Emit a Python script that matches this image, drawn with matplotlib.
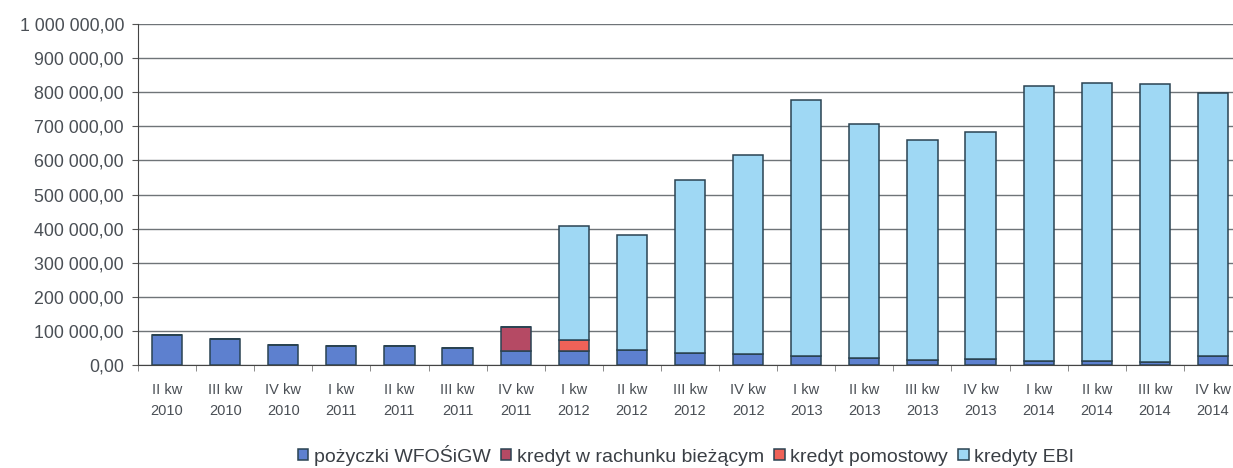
import matplotlib
matplotlib.use("Agg")
import matplotlib.pyplot as plt
import numpy as np
from matplotlib.ticker import FuncFormatter

plt.rcParams['font.family'] = ['Liberation Sans', 'DejaVu Sans']

quarters = ["II kw\n2010", "III kw\n2010", "IV kw\n2010",
            "I kw\n2011", "II kw\n2011", "III kw\n2011", "IV kw\n2011",
            "I kw\n2012", "II kw\n2012", "III kw\n2012", "IV kw\n2012",
            "I kw\n2013", "II kw\n2013", "III kw\n2013", "IV kw\n2013",
            "I kw\n2014", "II kw\n2014", "III kw\n2014", "IV kw\n2014"]

# values (PLN)
pozyczki = [89000, 76000, 59000, 55000, 55000, 50000, 42000,
            42000, 43000, 36000, 31000, 25000, 21000, 16000, 17000,
            13000, 13000, 10000, 25000]
rachunek = [0, 0, 0, 0, 0, 0, 69000,
            0, 0, 0, 0, 0, 0, 0, 0, 0, 0, 0, 0]
pomostowy = [0, 0, 0, 0, 0, 0, 0,
             31000, 0, 0, 0, 0, 0, 0, 0, 0, 0, 0, 0]
totals = [89000, 76000, 59000, 55000, 55000, 50000, 111000,
          408000, 380000, 542000, 616000, 777000, 708000, 660000, 682000,
          818000, 828000, 823000, 797000]
ebi = [t - a - b - c for t, a, b, c in zip(totals, pozyczki, rachunek, pomostowy)]

series = [("pożyczki WFOŚiGW", pozyczki, "#5d80cf"),
          ("kredyt w rachunku bieżącym", rachunek, "#b54a64"),
          ("kredyt pomostowy", pomostowy, "#ef6258"),
          ("kredyty EBI", ebi, "#9fd8f4")]

W, H = 1233, 468
fig = plt.figure(figsize=(W / 100, H / 100), dpi=100)
ax = fig.add_axes([138 / W, 1 - 365 / H, (1242 - 138) / W, (365 - 24) / H])

x = np.arange(len(quarters))
bottom = np.zeros(len(quarters))
for name, vals, col in series:
    vals = np.array(vals, dtype=float)
    ax.bar(x, vals, 0.52, bottom=bottom, color=col, edgecolor="#2a4352",
           linewidth=1.1, label=name, zorder=3)
    bottom += vals

ax.set_xlim(-0.5, len(quarters) - 0.5)
ax.set_ylim(0, 1000000)
ax.set_yticks(np.arange(0, 1000001, 100000))
ax.yaxis.set_major_formatter(FuncFormatter(
    lambda v, p: f"{v:,.2f}".replace(",", " ").replace(".", ",")))
ax.grid(axis="y", color="#6f7478", linewidth=1.0, zorder=0)

ax.set_xticks(x)
ax.set_xticklabels(quarters, fontsize=10.5, color="#4a4f55", linespacing=1.6)
ax.set_xticks(np.arange(-0.5, len(quarters), 1), minor=True)
ax.tick_params(axis="x", which="major", length=0, pad=13)
ax.tick_params(axis="x", which="minor", length=4, color="#777")
ax.tick_params(axis="y", length=4, color="#555", labelsize=12.8,
               labelcolor="#4a4f55", pad=6)

for s in ["top", "right"]:
    ax.spines[s].set_visible(False)
ax.spines["left"].set_color("#444")
ax.spines["bottom"].set_color("#444")

handles, labels = ax.get_legend_handles_labels()
fig.legend(handles, labels, loc="center", bbox_to_anchor=(686 / W, 1 - 455 / H),
           ncol=4, frameon=False, fontsize=14, handlelength=0.55,
           handleheight=0.55, handletextpad=0.3, columnspacing=0.5,
           labelcolor="#3a3f45", borderpad=0)

fig.savefig("out.png", dpi=100)
